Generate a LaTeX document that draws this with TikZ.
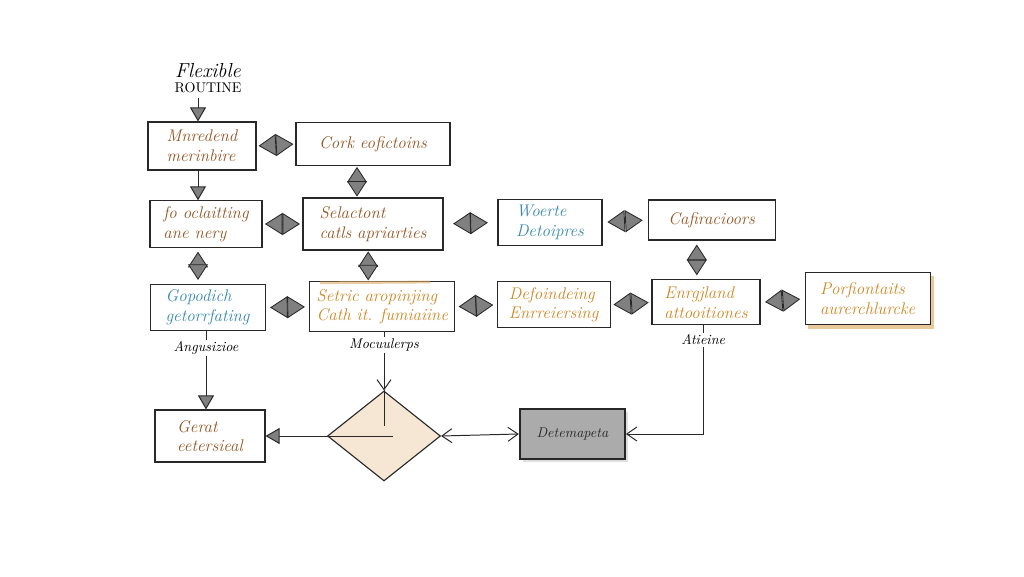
\documentclass[tikz,border=0pt]{standalone}
\usepackage{xcolor}
\usepackage{tikz}
\usetikzlibrary{positioning}
\usetikzlibrary{calc}
\usetikzlibrary{shapes.geometric}
\usetikzlibrary{arrows.meta}
\usetikzlibrary{shadows}

\definecolor{inkbrown}{RGB}{145,85,35}
\definecolor{inkblue}{RGB}{55,135,175}
\definecolor{inkorange}{RGB}{205,135,35}
\definecolor{inkgray}{RGB}{40,40,40}

\tikzset{
  box/.style={draw=inkgray, line width=0.8pt, fill=white, align=left, inner sep=4pt,
              font=\large\itshape},
  dconn/.style={draw=inkgray, line width=0.6pt,
                {Triangle[length=4.4mm,width=5.5mm,fill=black!50]}-{Triangle[length=4.4mm,width=5.5mm,fill=black!50]},
                shorten <=#1, shorten >=#1},
  dconn/.default=0.5mm,
  vdconn/.style={draw=inkgray, line width=0.6pt,
                {Triangle[length=3.9mm,width=5mm,fill=black!50]}-{Triangle[length=3.9mm,width=5mm,fill=black!50]},
                shorten <=#1, shorten >=#1},
  vdconn/.default=0.2mm,
  downarr/.style={draw=inkgray, line width=0.7pt,
                  -{Triangle[length=3.5mm,width=4mm,fill=black!50]}},
  openarr/.style={draw=inkgray, line width=0.7pt, -{Straight Barb[length=2.5mm,width=3.5mm]}},
  tag/.style={font=\itshape, text=black, inner sep=1pt}
}

\begin{document}
\begin{tikzpicture}
  \useasboundingbox (0,0) rectangle (25.6,14.4);

  % title
  \node[align=center] (ttl) at (5.2,12.45) {{\Large\itshape Flexible}\\[-1pt]ROUTINE};

  % first row
  \node[box, text=inkbrown, minimum width=2.7cm, minimum height=1.2cm] (b1) at (5.05,10.75) {Mnredend\\merinbire};
  \node[box, text=inkbrown, minimum width=3.85cm, minimum height=1.075cm] (b2) at (9.325,10.8) {Cork eofictoins};

  % second row
  \node[box, text=inkbrown, minimum width=2.8cm, minimum height=1.1cm] (b3) at (5.15,8.8) {fo oclaitting\\ane nery};
  \node[box, text=inkbrown, minimum width=3.5cm, minimum height=1.3cm] (b4) at (9.325,8.8) {Selactont\\catls apriarties};
  \node[box, text=inkblue, minimum width=2.6cm, minimum height=1.125cm] (b5) at (13.75,8.84) {Woerte\\Detoipres};
  \node[box, text=inkbrown, minimum width=3.175cm, minimum height=1.0cm] (b6) at (17.79,8.9) {Cafiracioors};

  % third row
  \node[box, text=inkblue, minimum width=2.875cm, minimum height=1.125cm] (b7) at (5.19,6.71) {Gopodich\\getorrfating};
  \node[box, text=inkorange, minimum width=3.625cm, minimum height=1.25cm] (b8) at (9.56,6.73) {Setric aropinjing\\Cath it. fumiaiine};
  \node[box, text=inkorange, minimum width=2.825cm, minimum height=1.1cm] (b9) at (13.84,6.78) {Defoindeing\\Enrreiersing};
  \node[box, text=inkorange, minimum width=2.7cm, minimum height=1.125cm] (b10) at (17.65,6.84) {Enrgjland\\attooitiones};
  \fill[inkorange!45] (20.2,6.175) rectangle (23.35,6.3);
  \fill[inkorange!45] (23.25,6.175) rectangle (23.35,7.5);
  \node[box, text=inkorange, minimum width=3.125cm, minimum height=1.3cm] (b11) at (21.69,6.93) {Porfiontaits\\aurerchlurcke};
  \draw[inkorange!70, line width=2pt, opacity=0.6] (8.0,7.33) -- (10.75,7.35);

  % labels under the third row
  \node[tag] (l7) at (5.15,5.7) {Angusizioe};
  \node[tag] (l8) at (9.6,5.78) {Mocuulerps};
  \node[tag] (l10) at (17.58,5.9) {Atieine};

  % bottom row
  \node[box, text=inkbrown, minimum width=2.75cm, minimum height=1.3cm] (b12) at (5.25,3.5) {Gerat\\eetersieal};
  \node[draw=inkgray, line width=0.8pt, diamond, aspect=1.25, fill=inkorange!20,
        minimum width=2.825cm, minimum height=2.25cm, inner sep=0pt] (dia) at (9.6,3.5) {};
  \draw[inkgray, line width=0.5pt] (dia.north) -- ++(0,-0.9);
  \draw[inkgray, line width=0.5pt] (dia.west) -- ++(1.65,0);
  \node[box, fill=black!33, draw=black!85, line width=1.6pt, drop shadow={opacity=0.25},
        font=\itshape, text=black!85, minimum width=2.625cm, minimum height=1.25cm] (b13) at (14.31,3.55) {Detemapeta};

  % connectors
  \draw[downarr] (ttl.south -| 4.95,0) -- (b1.north -| 4.95,0);
  \draw[dconn] (b1.east) -- (b2.west);
  \draw[downarr] (b1.south -| 4.95,0) -- (b3.north -| 4.95,0);
  \draw[vdconn] ([xshift=-4mm]b2.south) -- ([xshift=-4mm]b2.south |- b4.north);
  \draw[dconn=0.6mm] (b3.east) -- (b4.west);
  \draw[dconn=2.4mm] (b4.east) -- (b5.west);
  \draw[dconn=1.2mm] (b5.east) -- (b6.west);
  \draw[vdconn=1mm] (4.95,0 |- b3.south) -- (4.95,0 |- b7.north);
  \draw[vdconn] ([xshift=-1.2mm]b4.south) -- ([xshift=-1.2mm]b4.south |- b8.north);
  \draw[vdconn=1mm] (17.42,0 |- b6.south) -- (17.42,0 |- b10.north);
  \draw[dconn=1.1mm] (b7.east) -- (b8.west);
  \draw[dconn=0.8mm] (b8.east) -- (b9.west);
  \draw[dconn=0.7mm] (b9.east) -- (b10.west);
  \draw[dconn=1.1mm] (b10.east) -- (b11.west);

  \draw[inkgray, line width=0.7pt] (l7.north |- b7.south) -- (l7.north);
  \draw[downarr] (l7.south) -- (l7.south |- b12.north);
  \draw[inkgray, line width=0.7pt] (l8.north |- b8.south) -- (l8.north);
  \draw[openarr] (l8.south) -- (dia.north);
  \draw[inkgray, line width=0.7pt] (l10.north |- b10.south) -- (l10.north);
  \draw[openarr] (l10.south) |- (b13.east);
  \draw[downarr] (dia.west) -- (b12.east);
  \draw[openarr, {Straight Barb[length=2.5mm,width=3.5mm]}-{Straight Barb[length=2.5mm,width=3.5mm]}] (dia.east) -- (b13.west);
\end{tikzpicture}
\end{document}
